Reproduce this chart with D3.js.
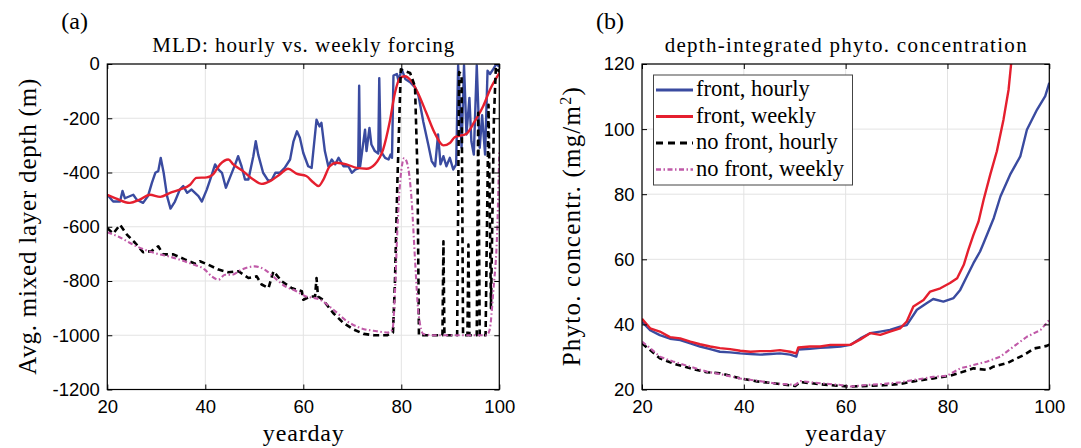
<!DOCTYPE html>
<html><head><meta charset="utf-8">
<script src="https://cdn.jsdelivr.net/npm/d3@7"></script>
<style>body{margin:0;background:#fff}</style>
</head><body><svg id="c" width="1081" height="448"></svg>
<script>
// ---------- Data ----------
const xTicks = [20, 40, 60, 80, 100];
const mldTicks = [-1200, -1000, -800, -600, -400, -200, 0];
const phytoTicks = [20, 40, 60, 80, 100, 120];
const seriesNames = ["front, hourly", "front, weekly", "no front, hourly", "no front, weekly"];

// Panel (a): MLD
const mldFrontHourlyDay = [20,21.2,22.6,23.1,23.6,25.3,26,27.3,28.3,29.1,29.8,30.4,30.9,31.5,32.2,32.9,33.8,34.8,35.5,36.3,37.2,38.6,39.3,40.3,41,42,42.7,43.4,44.2,45,46.1,46.7,47.4,48.1,48.8,49.8,50.3,50.8,51.8,52.9,53.6,54.3,55.2,56.2,57.3,58,58.7,59.3,60,61,61.7,62.7,63.3,63.7,64.4,65.1,65.8,66.5,67.2,68.2,69.2,69.9,70.6,71.2,71.4,71.6,72.6,72.9,73.5,73.9,74.6,75.3,75.5,75.8,76.7,77.4,77.8,78.1,78.4,79.1,79.4,80.1,80.8,81.8,82.8,83.5,84.5,85.5,86.2,86.9,87.5,88,88.6,89.2,89.9,90.6,91.2,91.6,92.3,92.8,93.3,93.9,94.3,94.8,95.4,96,96.5,97.1,97.6,98.1,98.8,99.4,100];
const mldFrontHourly = [-482,-507,-507,-468,-495,-482,-500,-512,-487,-438,-401,-395,-346,-401,-487,-533,-507,-463,-450,-475,-463,-487,-507,-463,-426,-370,-389,-401,-456,-420,-370,-340,-377,-426,-426,-340,-285,-334,-401,-432,-426,-401,-401,-383,-352,-285,-248,-272,-328,-377,-383,-205,-230,-217,-321,-377,-352,-370,-346,-377,-377,-401,-389,-385,-80,-377,-242,-321,-236,-297,-321,-330,-52,-321,-346,-352,-334,-346,-43,-37,-61,-20,-55,-67,-86,-116,-214,-297,-358,-377,-260,-370,-340,-377,-346,-389,-370,-5,-309,-5,-260,-125,-285,-334,-5,-309,-189,-334,-25,-37,-18,0,-10];

const mldFrontWeeklyDay = [20,21.7,24.6,26.6,28.7,30.8,32.8,34.8,36.9,38.2,40.3,41.6,43,44.7,45.7,47.7,49.8,51.5,53.2,55.2,56.9,58.6,60.6,62,63.1,64.1,65.4,66.8,68.8,70.9,72.9,74.6,76.3,77.6,78.7,79.7,80.7,82.1,83.4,85.1,86.8,88.6,89.9,90.9,93.3,95,96.7,98.1,100];
const mldFrontWeekly = [-482,-495,-512,-500,-482,-490,-475,-463,-445,-420,-418,-407,-370,-352,-370,-395,-426,-442,-432,-407,-386,-404,-413,-436,-450,-426,-377,-364,-370,-383,-386,-370,-315,-217,-107,-52,-45,-64,-107,-180,-254,-300,-291,-270,-257,-211,-156,-95,-34];

const mldNoFrontHourlyDay = [20,21.2,22.6,24,25.7,27.3,29,30.4,31.4,33.5,35.9,37.9,38.9,40.6,42.7,44.7,46.8,48.8,50.5,51.5,52.9,53.9,55.6,57.6,59.7,60,61.4,62.4,62.7,63,64,66.1,68.2,70.3,72.3,74.4,77.1,78.3,78.7,79.2,79.6,79.9,80.5,81.8,82.8,83.3,83.6,88.4,88.6,88.8,91.4,91.8,92.3,92.6,93.5,93.7,93.9,95.4,95.7,96,97.2,97.8,98.3,98.9,99.3,100];
const mldNoFrontHourly = [-605,-625,-593,-629,-660,-694,-690,-672,-702,-702,-721,-736,-727,-740,-758,-768,-764,-789,-783,-813,-826,-764,-801,-826,-838,-869,-857,-857,-789,-857,-869,-918,-955,-979,-995,-1000,-1000,-990,-807,-435,-200,-20,-25,-33,-83,-400,-1000,-1000,-654,-1000,-1000,-30,-40,-1000,-1000,-666,-1000,-1000,-180,-1000,-1000,-150,-900,-200,-10,-30];

const mldNoFrontWeeklyDay = [20,22.2,25.7,29.7,33.1,37.2,39.9,41.3,42.7,44,45.4,47.4,50.1,52.1,54.2,56.3,58.3,60.3,63.4,66.1,68.9,71.6,75,77.3,78.2,78.7,79.2,79.8,80.6,81.2,82.1,82.8,83.5,84.5,86.6,97.4,98,98.8,99.6,100];
const mldNoFrontWeekly = [-620,-636,-670,-697,-712,-737,-758,-783,-795,-777,-777,-758,-746,-758,-789,-820,-835,-855,-869,-905,-948,-973,-985,-990,-979,-844,-611,-427,-347,-366,-500,-721,-918,-995,-1000,-1000,-982,-832,-600,-320];

// Panel (b): phytoplankton
const phyFrontHourlyDay = [20,21.6,23.5,25.5,27.5,29.5,31.4,33.4,35.3,37.3,39.3,41.3,43.2,45.2,47.1,49.1,50.3,50.7,53,55,57,59,60.9,62.9,64.8,66.8,68.7,70.7,72,74,75.9,77.2,79.2,81.2,82.5,83.8,85.1,86.4,87.1,89.1,90.4,92.3,94.3,95.6,97.6,99.2,100];
const phyFrontHourly = [40.8,38.2,36.7,35.6,35.2,34.2,33.2,32.4,31.6,31.4,31.1,30.9,30.7,30.9,31.1,30.7,30.1,32.3,32.5,32.8,33.0,33.2,33.7,35.7,37.3,37.8,38.3,39.3,39.8,44.5,46.5,47.8,47.0,48.1,50.6,54.7,58.8,62.4,65.0,72.7,79.3,86.0,91.6,99.8,106.0,110.1,114.2];

const phyFrontWeeklyDay = [20,21.6,23.5,25.5,27.5,29.5,31.4,33.4,35.3,37.3,39.3,41.3,43.2,45.2,47.1,49.1,50.3,50.7,53,55,57,59,60.9,62.9,64.8,66.8,68.7,70.7,72,73.3,75.3,76.6,78.6,80.5,81.9,83.2,84.1,85.1,86.1,87.1,88.4,89.7,91,92,92.5];
const phyFrontWeekly = [41.7,38.8,37.8,36.1,35.7,34.7,33.9,33.2,32.7,32.4,31.9,31.6,31.8,31.8,32.1,31.6,31.1,32.9,33.2,33.2,33.7,33.7,33.7,35.4,37.3,36.8,37.8,38.8,40.9,45.5,47.5,50.1,51.1,52.7,54.2,58.3,62.9,67.5,71.6,78.3,86.0,93.2,102.9,112.1,120];

const phyNoFrontHourlyDay = [20,21.6,23.5,26.1,29.5,32.7,35.3,39.3,42.6,45.9,50.1,51.1,55,59,60.9,64.2,67.4,70.7,73.3,77.2,80.5,83.2,85.1,87.8,89,91.7,95,97,99.5,100];
const phyNoFrontHourly = [34.2,32.1,29.6,28.0,26.5,25.3,25.0,23.4,22.5,21.9,21.1,22.3,21.6,21.1,20.9,21.1,21.3,21.7,22.5,23.4,24.2,25.5,26.5,26.0,27.0,28.1,30.6,32.6,33.4,33.8];

const phyNoFrontWeeklyDay = [20,21.6,23.5,26.1,29.5,32.7,36,39.3,42.6,45.9,50.1,51.1,55,59,60.9,64.2,67.4,70.7,73.3,77.2,79.9,82.5,85.1,87.8,90.4,93,95.6,98.3,100];
const phyNoFrontWeekly = [34.7,32.7,30.1,28.6,27.0,25.5,24.5,23.4,22.7,21.9,21.4,22.6,21.9,21.4,20.9,21.4,21.7,22.2,22.9,23.9,24.2,26.5,27.5,28.6,30.1,33.2,36.2,38.3,41.4];

// ---------- Drawing ----------
const svg = d3.select("#c");
const serif = "'Liberation Serif', 'DejaVu Serif', serif";
const sans = "'Liberation Sans', Arial, sans-serif";
const colors = ["#3a4ba0", "#e51f2e", "#000000", "#c05aa8"];
const dashes = [null, null, "6,4", "5,2.5,1.5,2.5"];
const widths = [2.4, 2.4, 2.6, 2.1];

function panel(id, left, right, top, bottom, yDomain, yTicks, series, curves, label, title, titleLen, ylabel, ylabelX, ylabelLen) {
  const x = d3.scaleLinear().domain([20, 100]).range([left, right]);
  const y = d3.scaleLinear().domain(yDomain).range([bottom, top]);
  const g = svg.append("g");
  g.append("clipPath").attr("id", id).append("rect")
    .attr("x", left).attr("y", top).attr("width", right - left).attr("height", bottom - top);
  // grid
  g.selectAll(".gx").data(xTicks).join("line")
    .attr("x1", d => x(d)).attr("x2", d => x(d)).attr("y1", top).attr("y2", bottom)
    .attr("stroke", "#e3e3e3").attr("stroke-width", 1);
  g.selectAll(".gy").data(yTicks).join("line")
    .attr("y1", d => y(d)).attr("y2", d => y(d)).attr("x1", left).attr("x2", right)
    .attr("stroke", "#e3e3e3").attr("stroke-width", 1);
  // series
  const lines = g.append("g").attr("clip-path", `url(#${id})`);
  series.forEach((s, i) => {
    const pts = s[0].map((d, k) => [d, s[1][k]]);
    lines.append("path").datum(pts)
      .attr("d", d3.line().x(d => x(d[0])).y(d => y(d[1])).curve(curves[i]))
      .attr("fill", "none").attr("stroke", colors[i]).attr("stroke-width", widths[i])
      .attr("stroke-dasharray", dashes[i]).attr("stroke-linejoin", "round");
  });
  // axes
  const fmt = d => String(d);
  const ax = [
    g.append("g").attr("transform", `translate(0,${bottom})`).call(d3.axisBottom(x).tickValues(xTicks).tickSize(-5).tickPadding(10).tickFormat(fmt)),
    g.append("g").attr("transform", `translate(0,${top})`).call(d3.axisTop(x).tickValues(xTicks).tickSize(-5).tickFormat("")),
    g.append("g").attr("transform", `translate(${left},0)`).call(d3.axisLeft(y).tickValues(yTicks).tickSize(-5).tickPadding(7.5).tickFormat(fmt)),
    g.append("g").attr("transform", `translate(${right},0)`).call(d3.axisRight(y).tickValues(yTicks).tickSize(-5).tickFormat(""))
  ];
  ax.forEach(a => {
    a.select(".domain").remove();
    a.selectAll("line").attr("stroke", "#000").attr("stroke-width", 1);
    a.selectAll("text").attr("font-family", sans).attr("font-size", 18.5).attr("fill", "#000");
  });
  g.append("rect").attr("x", left).attr("y", top).attr("width", right - left).attr("height", bottom - top)
    .attr("fill", "none").attr("stroke", "#000").attr("stroke-width", 1.2);
  // texts
  const cx = (left + right) / 2;
  g.append("text").attr("x", cx).attr("y", 441).attr("text-anchor", "middle")
    .attr("font-family", serif).attr("font-size", 24)
    .attr("textLength", 81).attr("lengthAdjust", "spacing").text("yearday");
  g.append("text").attr("x", cx).attr("y", 52).attr("text-anchor", "middle")
    .attr("font-family", serif).attr("font-size", 21)
    .attr("textLength", titleLen).attr("lengthAdjust", "spacing").text(title);
  g.append("text").attr("x", left - 46).attr("y", 29)
    .attr("font-family", serif).attr("font-size", 24).text(label);
  const yl = g.append("text").attr("transform", `translate(${ylabelX},${(top + bottom) / 2}) rotate(-90)`)
    .attr("text-anchor", "middle").attr("font-family", serif).attr("font-size", 25)
    .attr("textLength", ylabelLen).attr("lengthAdjust", "spacing");
  ylabel(yl);
  return {x, y, g};
}

panel("clipA", 107.3, 499.3, 64, 389.5, [-1200, 0], mldTicks,
  [[mldFrontHourlyDay, mldFrontHourly], [mldFrontWeeklyDay, mldFrontWeekly],
   [mldNoFrontHourlyDay, mldNoFrontHourly], [mldNoFrontWeeklyDay, mldNoFrontWeekly]],
  [d3.curveLinear, d3.curveMonotoneX, d3.curveLinear, d3.curveMonotoneX],
  "(a)", "MLD: hourly vs. weekly forcing", 302,
  t => t.text("Avg. mixed layer depth (m)"), 36, 296);

const pb = panel("clipB", 642, 1049.3, 64, 389.5, [20, 120], phytoTicks,
  [[phyFrontHourlyDay, phyFrontHourly], [phyFrontWeeklyDay, phyFrontWeekly],
   [phyNoFrontHourlyDay, phyNoFrontHourly], [phyNoFrontWeeklyDay, phyNoFrontWeekly]],
  [d3.curveLinear, d3.curveLinear, d3.curveLinear, d3.curveLinear],
  "(b)", "depth-integrated phyto. concentration", 362,
  t => { t.append("tspan").text("Phyto. concentr. (mg/m");
         t.append("tspan").attr("font-size", 16).attr("dy", -9).text("2");
         t.append("tspan").attr("dy", 9).text(")"); }, 580, 279);

// legend
const lg = pb.g.append("g");
lg.append("rect").attr("x", 653.5).attr("y", 75).attr("width", 199).attr("height", 110)
  .attr("fill", "#fff").attr("stroke", "#444").attr("stroke-width", 1);
seriesNames.forEach((n, i) => {
  const yy = 90 + i * 26.5;
  lg.append("line").attr("x1", 656).attr("x2", 693).attr("y1", yy).attr("y2", yy)
    .attr("stroke", colors[i]).attr("stroke-width", widths[i] + 0.4)
    .attr("stroke-dasharray", i === 2 ? "7,5" : dashes[i]);
  lg.append("text").attr("x", 696).attr("y", yy + 6).attr("font-family", serif)
    .attr("font-size", 22.5).text(n);
});
</script></body></html>
